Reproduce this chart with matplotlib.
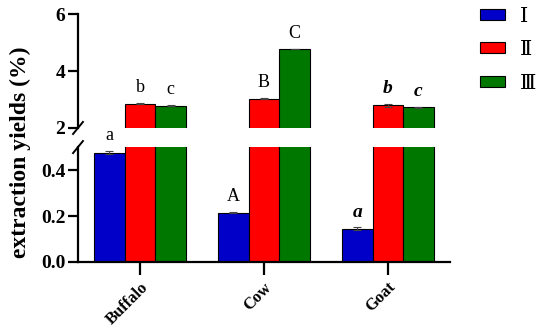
import numpy as np
import matplotlib.pyplot as plt

# data
animals = ['Buffalo', 'Cow', 'Goat']
groups = ['Ⅰ', 'Ⅱ', 'Ⅲ']
yield_I = [0.475, 0.215, 0.145]
yield_II = [2.85, 3.03, 2.79]
yield_III = [2.78, 4.78, 2.72]
err_I = [0.006, 0.002, 0.005]
err_II = [0.02, 0.02, 0.04]
err_III = [0.02, 0.01, 0.02]
letters_I = ['a', 'A', 'a']
letters_II = ['b', 'B', 'b']
letters_III = ['c', 'C', 'c']

colors = ['#0000c8', '#ff0000', '#007800']
serif = ['Liberation Serif', 'DejaVu Serif']
plt.rcParams['font.family'] = serif

fig = plt.figure(figsize=(5.5, 3.35), dpi=100)
ax_top = fig.add_axes([0.1418, 0.618, 0.676, 0.340])
ax_bot = fig.add_axes([0.1418, 0.218, 0.676, 0.343])

x = np.arange(len(animals))
w = 0.247
series = [yield_I, yield_II, yield_III]
errs = [err_I, err_II, err_III]
letters = [letters_I, letters_II, letters_III]

for ax in (ax_top, ax_bot):
    for i in range(3):
        ax.bar(x + (i - 1) * w, series[i], w, color=colors[i], edgecolor='black',
               linewidth=0.8, yerr=errs[i], capsize=3,
               error_kw=dict(ecolor='#444444', elinewidth=0.8, capthick=0.8))
    ax.set_xlim(-0.5, 2.5)
    ax.spines['top'].set_visible(False)
    ax.spines['right'].set_visible(False)
    ax.spines['left'].set_linewidth(1.6)
    ax.tick_params(axis='y', direction='out', length=7, width=1.6, pad=2)

ax_top.set_ylim(2, 6)
ax_top.set_yticks([2, 4, 6])
ax_top.set_yticklabels(['2', '4', '6'], fontweight='bold', fontsize=14)
ax_top.spines['bottom'].set_visible(False)
ax_top.set_xticks([])

ax_bot.set_ylim(0, 0.5)
ax_bot.set_yticks([0.0, 0.2, 0.4])
ax_bot.set_yticklabels(['0.0', '0.2', '0.4'], fontweight='bold', fontsize=14)
ax_bot.spines['bottom'].set_linewidth(1.6)
ax_bot.set_xticks(x)
ax_bot.set_xticklabels(animals, rotation=45, ha='right', rotation_mode='anchor',
                       fontweight='bold', fontsize=12)
ax_bot.tick_params(axis='x', length=9, width=1.6)

# letters above bars
for i in range(3):
    for j in range(3):
        ax = ax_bot if i == 0 else ax_top
        style = dict(fontsize=13)
        if animals[j] == 'Goat':
            style = dict(fontsize=14, fontweight='bold', fontstyle='italic')
        ax.annotate(letters[i][j], (x[j] + (i - 1) * w, series[i][j] + errs[i][j]),
                    xytext=(0, 5), textcoords='offset points', ha='center',
                    va='bottom', **style)

# break marks
d = dict(transform=fig.transFigure, color='black', linewidth=1.4, clip_on=False)
x0 = 0.1418
for yb in (0.618, 0.561):
    fig.add_artist(plt.Line2D([x0 - 0.009, x0 + 0.009], [yb - 0.018, yb + 0.018], **d))

fig.text(0.038, 0.545, 'extraction yields (%)', rotation=90, va='center', ha='center',
         fontsize=17, fontweight='bold')

handles = [plt.Rectangle((0, 0), 1, 1, facecolor=c, edgecolor='black', linewidth=0.8)
           for c in colors]
fig.legend(handles, groups, loc='upper left', bbox_to_anchor=(0.858, 1.002),
           frameon=False, handlelength=1.2, handleheight=0.43, borderaxespad=0,
           labelspacing=0.7, handletextpad=0.7,
           prop=dict(family=serif + ['Noto Sans CJK SC'], size=15))

plt.savefig('out.png', dpi=100)
